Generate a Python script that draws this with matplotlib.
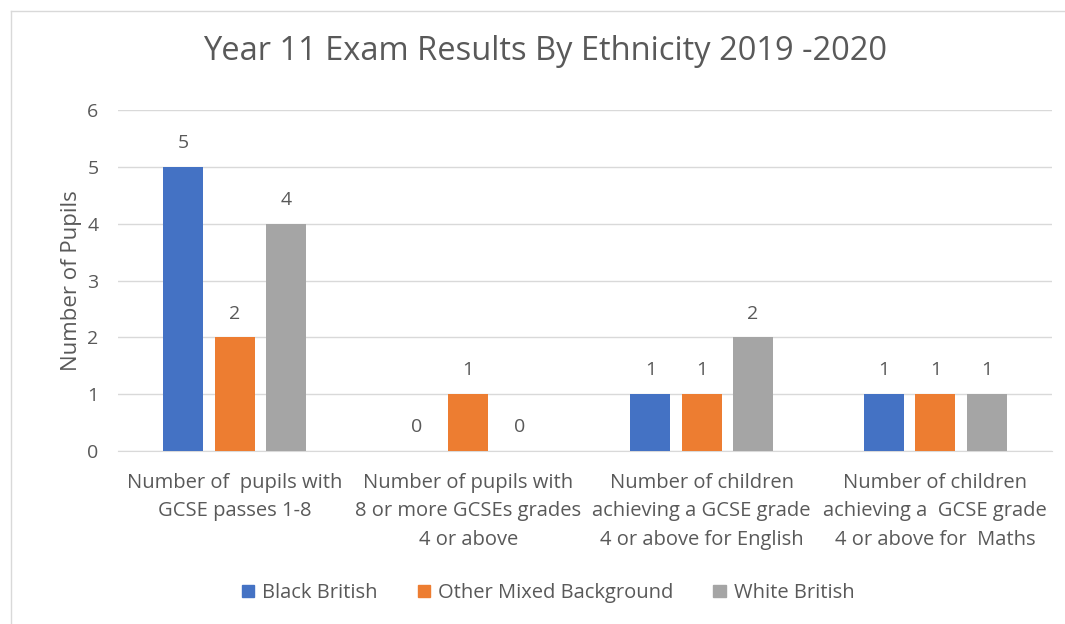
import matplotlib.pyplot as plt
import numpy as np
from matplotlib.lines import Line2D

plt.rcParams['font.family'] = ['Open Sans', 'DejaVu Sans']

categories = ["Number of  pupils with\nGCSE passes 1-8",
              "Number of pupils with\n8 or more GCSEs grades\n4 or above",
              "Number of children\nachieving a GCSE grade\n4 or above for English",
              "Number of children\nachieving a  GCSE grade\n4 or above for  Maths"]
series = ["Black British", "Other Mixed Background", "White British"]
black_british = [5, 0, 1, 1]
other_mixed = [2, 1, 1, 1]
white_british = [4, 0, 2, 1]
colors = ["#4472C4", "#ED7D31", "#A5A5A5"]
text_col = "#595959"

W, H = 1065, 624
fig = plt.figure(figsize=(W / 100, H / 100), dpi=100)
ax = fig.add_axes([118 / W, 1 - 451 / H, (1052 - 118) / W, (451 - 110) / H])

x = np.arange(len(categories))
width = 0.171
offset = 0.22
for i, (vals, c) in enumerate(zip([black_british, other_mixed, white_british], colors)):
    pos = x + (i - 1) * offset
    ax.bar(pos, vals, width, color=c, label=series[i], zorder=3)
    for p, v in zip(pos, vals):
        ax.text(p, v + 0.26, str(v), ha='center', va='bottom', fontsize=14, color=text_col)

ax.set_xlim(-0.5, len(categories) - 0.5)
ax.set_ylim(0, 6)
ax.set_yticks(range(7))
ax.yaxis.grid(True, color="#D9D9D9", linewidth=1, zorder=0)
for s in ['top', 'right', 'left']:
    ax.spines[s].set_visible(False)
ax.spines['bottom'].set_color("#D9D9D9")
ax.tick_params(axis='both', length=0, labelsize=14, labelcolor=text_col)
ax.tick_params(axis='y', pad=14)
ax.set_xticks(x)
ax.set_xticklabels(categories, fontsize=14.5, color=text_col, linespacing=1.55)
ax.tick_params(axis='x', pad=16)
ax.set_ylabel("Number of Pupils", fontsize=16, color=text_col, labelpad=4)

fig.text(545 / W, 1 - 52 / H, "Year 11 Exam Results By Ethnicity 2019 -2020",
         ha='center', va='center', fontsize=23.5, color=text_col)

handles = [plt.Rectangle((0, 0), 1, 1, color=c) for c in colors]
fig.legend(handles, series, loc='center', bbox_to_anchor=(548 / W, 1 - 593 / H), ncol=3,
           frameon=False, fontsize=14.5, labelcolor=text_col, handlelength=0.6,
           handleheight=0.6, columnspacing=2.0, handletextpad=0.4)

# chart border (top and left visible)
fig.add_artist(Line2D([11 / W, 11 / W], [0, 1 - 11 / H], transform=fig.transFigure, color="#D9D9D9", lw=1))
fig.add_artist(Line2D([11 / W, 1], [1 - 11 / H, 1 - 11 / H], transform=fig.transFigure, color="#D9D9D9", lw=1))

fig.savefig("out.png", dpi=100)
